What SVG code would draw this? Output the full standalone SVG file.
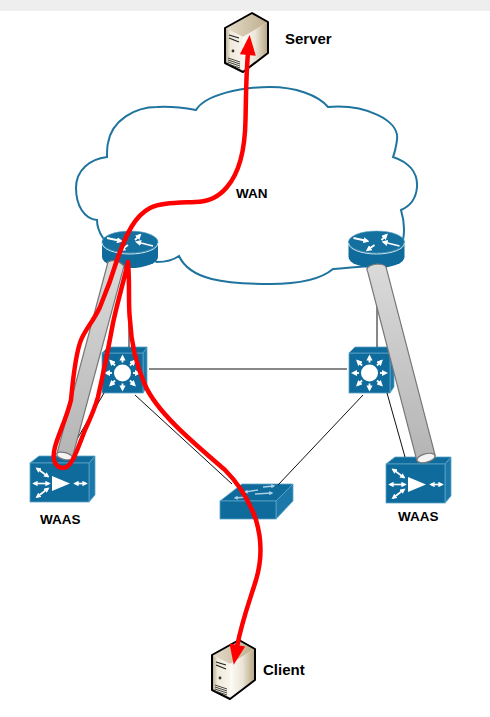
<svg xmlns="http://www.w3.org/2000/svg" xmlns:xlink="http://www.w3.org/1999/xlink" width="490" height="717" viewBox="0 0 490 717">
<style>
text{font-family:"Liberation Sans",Arial,sans-serif;font-weight:700;fill:#000}
.cloud{fill:#fff;stroke:#1f749f;stroke-width:2}
.blue{fill:#0f6b9b;stroke:#5ba3c8;stroke-width:.8}
.side{fill:#1b78a8;stroke:#5ba3c8;stroke-width:.8}
.wl{stroke:#fff;stroke-width:1.8;fill:none;marker-end:url(#wh)}
.wd{stroke:#fff;stroke-width:1.6;fill:none;marker-start:url(#wh);marker-end:url(#wh)}
.lt{stroke:#a9d0e4;stroke-width:1.4;fill:none;marker-end:url(#lh)}
.link{stroke:#111;stroke-width:1;fill:none}
.pipe{stroke:#777;stroke-width:1.2}
.end{fill:#f4f4f4;stroke:#777;stroke-width:1.2}
.route{fill:none;stroke:#f00;stroke-width:4.500;stroke-linecap:round;stroke-linejoin:round}
</style>
<defs>
<marker id="wh" viewBox="0 0 6 6" refX="4" refY="3" markerWidth="3.4" markerHeight="3.4" orient="auto-start-reverse"><path d="M0 0L6 3L0 6z" fill="#fff"/></marker>
<marker id="lh" viewBox="0 0 6 6" refX="4" refY="3" markerWidth="3" markerHeight="3" orient="auto-start-reverse"><path d="M0 0L6 3L0 6z" fill="#a9d0e4"/></marker>
<marker id="red" viewBox="0 0 20 16" refX="2" refY="8" markerUnits="userSpaceOnUse" markerWidth="22" markerHeight="16" orient="auto-start-reverse"><path d="M0 0L20 8L0 16z" fill="#f00"/></marker>
<linearGradient id="pg" x1="0" y1="0" x2="0" y2="1"><stop offset="0" stop-color="#dadada"/><stop offset="1" stop-color="#b4b4b4"/></linearGradient>
<linearGradient id="sr" x1="0" y1="0" x2="1" y2="0"><stop offset="0" stop-color="#fdfcf8"/><stop offset=".5" stop-color="#ebe5d7"/><stop offset="1" stop-color="#b5a380"/></linearGradient>
<linearGradient id="st" x1="0" y1="0" x2="1" y2="0"><stop offset="0" stop-color="#e4dccb"/><stop offset="1" stop-color="#bfae8d"/></linearGradient>
<linearGradient id="sl" x1="0" y1="0" x2="1" y2="0"><stop offset="0" stop-color="#b3a689"/><stop offset=".3" stop-color="#efe9da"/><stop offset="1" stop-color="#f8f5ec"/></linearGradient>
<g id="server">
<path d="M225 28L252 13L268 22L243 37z" fill="url(#st)"/>
<path d="M243 37L268 22V53L243 72z" fill="url(#sr)"/>
<path d="M225 28L243 37V72L225 63z" fill="url(#sl)"/>
<path d="M225 28L252 13L268 22V53L243 72L225 63z" fill="none" stroke="#000" stroke-width="2" stroke-linejoin="round"/>
<path d="M229 35L239 38M229 38L239 42" stroke="#222" stroke-width="1.3"/>
<circle cx="233" cy="51" r="1.4" fill="#333"/>
<path d="M228 58L240 62M228 60L240 64M228 62L240 66M228 64L240 68" stroke="#333" stroke-width=".9"/>
</g>
<g id="router">
<path d="M-28 0V15A28 11 0 0 0 28 15V0z" fill="#0f6b9b"/>
<ellipse cx="0" cy="0" rx="28" ry="11" fill="#14709f" stroke="#5ba3c8" stroke-width=".6"/>
<path d="M-28 1A28 11 0 0 0 28 1" fill="none" stroke="#cfe4ef" stroke-width="1"/>
<path class="wl" d="M-23-4L-9-1"/><path class="wl" d="M5-2L10-7"/><path class="wl" d="M23 4L7 0"/><path class="wl" d="M-2 3L-9 8"/>
</g>
<g id="l3">
<path class="side" d="M41 6L45 0V40L41 46z"/>
<rect class="blue" x="0" y="6" width="41" height="40"/>
<path class="blue" d="M0 6L6 0H45L41 6z"/>
<path class="wl" d="M20.500 15.500V9.500"/><path class="wl" d="M20.500 36.500V42.500"/><path class="wl" d="M10 26H4"/><path class="wl" d="M31 26H37"/>
<path class="wl" d="M13 18.500L8.500 14"/><path class="wl" d="M28 18.500L32.500 14"/><path class="wl" d="M13 33.500L8.500 38"/><path class="wl" d="M28 33.500L32.500 38"/>
<circle cx="20.500" cy="26" r="8.500" fill="#fff"/>
</g>
<g id="waas">
<path class="side" d="M59 7L65 0V39L59 46z"/>
<path class="blue" d="M0 7L9 0H65L59 7z"/>
<rect class="blue" x="0" y="7" width="59" height="39"/>
<path d="M22 20L40 27.500L22 35z" fill="#fff"/>
<path class="wd" d="M4 27.500H19"/><path class="wd" d="M7 12.500L18 20.500"/><path class="wd" d="M7 41L18 32.500"/><path class="wd" d="M45 27.500H56"/>
</g>
</defs>
<rect x="0" y="0" width="490" height="11" fill="#eeeeee"/>
<g id="wan">
<path class="cloud" d="M196 110C205 95 240 87 270 87C295 87 318 95 328 107C365 104 400 120 397 140C396 147 395 152 393 157C408 162 418 172 417 187C416 200 408 207 401 210C404 220 405 230 403 240L370 266C355 267 345 268 333 269C320 280 295 284 270 284C225 284 190 280 179 256C172 261 165 262 157 262L103 238C99 232 97 226 97 220C84 219 76 205 76 188C76 170 90 159 107 157C107 152 107 147 108 143C112 120 135 107 157 107C170 106 185 108 196 110z"/>
<text x="236" y="198" font-size="13.500">WAN</text>
</g>
<g id="router-left"><use xlink:href="#router" href="#router" transform="translate(130,242)"/></g>
<g id="router-right"><use xlink:href="#router" href="#router" transform="translate(376.500,242)"/></g>
<g id="l3-left"><use xlink:href="#l3" href="#l3" transform="translate(102,347)"/></g>
<g id="l3-right"><use xlink:href="#l3" href="#l3" transform="translate(349,347)"/></g>
<g id="waas-left"><use xlink:href="#waas" href="#waas" transform="translate(30,456)"/><text x="40" y="524" font-size="13.500">WAAS</text></g>
<g id="waas-right"><use xlink:href="#waas" href="#waas" transform="translate(386,457)"/><text x="398" y="521" font-size="13.500">WAAS</text></g>
<g id="switch">
<path class="blue" d="M220 501L242 484H293L276 501z"/>
<path class="side" d="M276 501L293 484V501L276 519z"/>
<rect class="blue" x="220" y="501" width="56" height="18"/>
<path class="lt" d="M263 487L274 486"/><path class="lt" d="M258 490L245 492"/><path class="lt" d="M255 494L272 493"/><path class="lt" d="M247 497L235 498"/>
</g>
<g id="server-node"><use xlink:href="#server" href="#server"/><text x="285" y="44" font-size="15">Server</text></g>
<g id="client-node"><use xlink:href="#server" href="#server" transform="translate(-13,627)"/><text x="263" y="675" font-size="15">Client</text></g>
<g id="connectors">
<path class="link" d="M149 369H347"/>
<path class="link" d="M377 268V347"/>
<path class="link" d="M129 268V347"/>
<path class="link" d="M135 395L232 484"/>
<path class="link" d="M363 395L278 485"/>
<path class="link" d="M387 393L405 457"/>
<path class="link" d="M104 393L66 458"/>
<path class="pipe" fill="url(#pg)" d="M108 262Q116 258 124 266L72.200 458Q64 462 56.800 454z"/>
<ellipse class="end" cx="64.500" cy="456" rx="8" ry="3.500" transform="rotate(15 64.500 456)"/>
<path class="pipe" fill="url(#pg)" d="M367.800 272Q364 266 377 264Q385 264 386.200 267.600L435.200 455.600Q428 464 416.800 460.400z"/>
<ellipse class="end" cx="426" cy="458" rx="9.300" ry="4.200" transform="rotate(-15 426 458)"/>
<path class="route" marker-start="url(#red)" marker-end="url(#red)" d="M248 53C246 75 246 100 245.500 120C245 150 240 172 227 187C218 198 208 202 195 202C175 203 160 203 150 208C135 216 127 232 117 260C110 283 105 295 100 307C93 322 86 328 81 340C75 355 73 380 71 400C66 420 58 435 55 447C52 458 54 467 63 468C72 468 77 450 85 430C92 415 95 408 98 397C103 375 108 350 113 323C118 300 124 280 128 262C130 285 128 305 130 320C131 340 134 360 145 385C157 412 190 440 225 470C240 485 250 503 256 520C262 540 262 560 256 580C250 600 242 620 237 647"/>
</g>
</svg>
